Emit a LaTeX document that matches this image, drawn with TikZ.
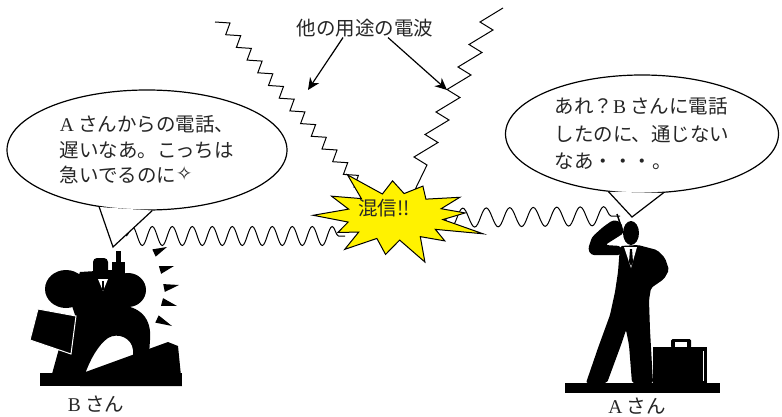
\documentclass[tikz,border=0pt]{standalone}
\usepackage{fontspec}
\setmainfont{Liberation Serif}
\newfontfamily\jpfont{Noto Sans CJK JP}
\newfontfamily\symfont{DejaVu Sans}
\usetikzlibrary{arrows.meta, calc, shapes.geometric, decorations.pathmorphing}
\tikzset{
  bub/.style={ellipse, draw, fill=white, line width=1.2pt, inner sep=2pt,
              align=left, text=black!85},
  arr/.style={-{Stealth[length=12pt, width=11pt]}, line width=1.2pt},
}

\begin{document}
\begin{tikzpicture}[x=1pt, y=-1pt,
      jp/.style ={font=\fontsize{19.5}{#1}\selectfont\jpfont, text=black!85},
      jp/.default=26pt,
      wv/.style ={line width=1pt, decorate,
                  decoration={snake, amplitude=9.5pt, segment length=#1}},
      zz/.style ={line width=1pt, line join=miter},
      fig/.style={fill=black},
      tail/.style={line width=1.2pt}]

    \path[use as bounding box, fill=white] (0,0) rectangle (782,417);

    % ── STRAY SIGNALS ───────────────────────────────────────
    \draw[zz] (215,22) \foreach \i in {1,...,14} { -- ++(15,1) -- ++(-4.3,11.7) };
    \draw[zz] (503,8) -- (480,22)
      \foreach \i in {1,...,6} { -- ++(13,8) -- ++(-24,14.5) } -- ++(13,8) -- (410,200);

    \node[jp] (lblR) at (365,28) {他の用途の電波};
    \coordinate (hitL) at (308,90);
    \coordinate (hitR) at (447,90);
    \draw[arr] ($(lblR.south)+(-22,-3)$) -- (hitL);
    \draw[arr] ($(lblR.south)+(23,-3)$) -- (hitR);

    % ── CALL B <-> A ────────────────────────────────────────
    \coordinate (phB) at (126,236);
    \coordinate (phA) at (620,216);
    \draw[wv=20pt] (phB) -- (345,236);
    \draw[wv=23.5pt] (432,218) -- (phA);

    % crash burst
    \begin{scope}[shift={(395,216)}, x=88pt, y=-44pt]
      \filldraw[fill=yellow, line width=1pt, line join=miter] (196.5:0.55)
        \foreach \a/\r in {181/0.93, 165.5/0.55, 150/0.75, 138.5/0.55, 127/0.95,
                           112/0.55, 97/0.88, 84.5/0.55, 72/1.1, 58.5/0.55, 45/0.8,
                           33.5/0.55, 22/1.08, 8.5/0.55, 355/0.8, 342.5/0.55, 330/0.85,
                           312.5/0.52, 295/0.75, 281.5/0.52, 268/0.8, 254/0.52,
                           240/1.08, 226/0.55, 212/0.85}
          { -- (\a:\r) } -- cycle;
    \end{scope}
    \node[jp] (burst) at (384,208) {混信!!};

    % ── BUBBLES ─────────────────────────────────────────────
    \node[bub, jp=25.5pt, minimum width=280pt, minimum height=120pt] (bubB) at (147,150)
      {{\rmfamily A}\ さんからの電話、\\遅いなあ。こっちは\\急いでるのに\raisebox{2pt}{\symfont ✧}};
    \coordinate (tipB) at (113,247);
    \fill[white] (bubB.230) -- (tipB) -- (bubB.275) -- cycle;
    \draw[tail] (bubB.230) -- (tipB) -- (bubB.275);

    \node[bub, jp=27.5pt, minimum width=273pt, minimum height=118pt] (bubA) at (642,134)
      {あれ？{\rmfamily B}\ さんに電話\\したのに、通じない\\なあ・・・。};
    \coordinate (tipA) at (632,217);
    \fill[white] (bubA.240) -- (tipA) -- (bubA.290) -- cycle;
    \draw[tail] (bubA.240) -- (tipA) -- (bubA.290);

    % ── B-SAN ───────────────────────────────────────────────
    \fill[fig] (40,373) rectangle (182,386);
    \fill[fig] (80,374) -- (168,342) -- (178,346) -- (182,386) -- (80,386) -- cycle;
    \fill[fig] (66,289) ellipse [x radius=21pt, y radius=19pt];
    \fill[fig] (80,272) -- (112,270) -- (122,305) -- (115,325) -- (80,330) -- (70,300) -- cycle;
    \fill[fig, rounded corners=4pt] (93,258) rectangle (108,279);
    \fill[fig] (128,290) ellipse [x radius=18pt, y radius=17pt];
    \fill[fig] (112,262) rectangle (125,284);
    \fill[fig] (116,251) rectangle (121,263);
    % legs over the slope
    \fill[fig] (70,318) -- (118,305) .. controls (140,306) and (152,318) .. (150,340)
      -- (148,370) -- (133,370) -- (133,350) .. controls (132,338) and (118,332) .. (108,338)
      .. controls (98,345) and (90,360) .. (85,374) -- (52,374) -- (60,345) -- cycle;
    \filldraw[fig, draw=white, line width=1pt] (38,309) -- (76,316) -- (71,354) -- (30,340) -- cycle;
    \fill[white] (98,279) -- (108,279) -- (103,291) -- cycle;
    \draw[line width=1.5pt] (103,281) -- (103,290);
    % phone buzz
    \foreach \bx/\by/\tx/\ty in {154/253/167/247, 160/270/174/266, 164/288/179/285,
                                 162/302/177/306, 157/319/172/326}
      \fill[fig] ($(\bx,\by)!4pt!90:(\tx,\ty)$) -- (\tx,\ty) -- ($(\bx,\by)!4pt!-90:(\tx,\ty)$) -- cycle;
    \node[jp] (nmB) at (96,404) {{\rmfamily B}\ さん};

    % ── A-SAN ───────────────────────────────────────────────
    \fill[fig] (565,383) rectangle (720,393);
    \fill[fig] (653,347) rectangle (707,383);
    \draw[white, line width=0.8pt] (703,351) -- (703,381);
    \fill[fig, rounded corners=1.5pt] (671,339) rectangle (691,348);
    \fill[white] (675,342) rectangle (687,347);
    \fill[fig] (631,233) ellipse [x radius=8pt, y radius=12pt];
    \fill[fig, rounded corners=3pt] (588,249) -- (592,237) -- (603,227) -- (613,220) -- (621,222)
      -- (624,233) -- (613,240) -- (605,245) -- (621,246) -- (621,255) -- (591,255) -- cycle;
    \draw[line width=1.5pt] (617,214) -- (621,226);
    \fill[fig, rounded corners=2pt] (620,246) -- (638,245) -- (657,250) -- (665,258) -- (669,270)
      -- (664,279) -- (651,288) -- (649,300) -- (650,330) -- (653,383) -- (632,383) -- (629,345)
      -- (626,330) -- (621,345) -- (607,383) -- (586,383) -- (598,348) -- (610,315)
      -- (615,292) -- (618,272) -- cycle;
    \fill[white] (624,247) -- (637,247) -- (631,268) -- cycle;
    \fill[fig] (630,249) -- (632,249) -- (633,262) -- (631,266) -- (629,262) -- cycle;
    \node[jp] (nmA) at (637,406) {{\rmfamily A}\ さん};
  \end{tikzpicture}
\end{document}
